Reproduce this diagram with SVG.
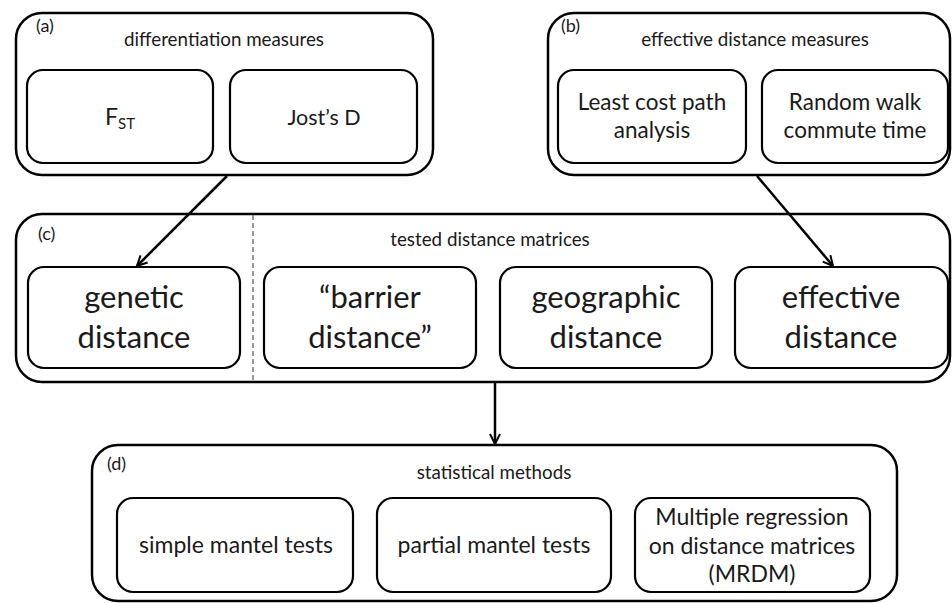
<svg xmlns="http://www.w3.org/2000/svg" width="952" height="603" viewBox="0 0 952 603">
  <style>
    .outer { fill: #ffffff; stroke: #000; stroke-width: 2.5; }
    .inner { fill: #ffffff; stroke: #000; stroke-width: 2.2; }
    text { font-family: Lato, "Open Sans", "Liberation Sans", sans-serif; fill: #1a1a1a; }
    .tag { font-size: 18px; }
    .title { font-size: 18.8px; text-anchor: middle; }
    .mid { font-size: 22.5px; text-anchor: middle; }
    .big { font-size: 31px; text-anchor: middle; }
    .stat { font-size: 23px; text-anchor: middle; }
    .conn { stroke: #000; stroke-width: 2.5; fill: none; marker-end: url(#arrow); }
    .divider { stroke: #555; stroke-width: 1.2; stroke-dasharray: 5 3; }
  </style>
  <defs>
    <marker id="arrow" viewBox="0 0 12 12" refX="11" refY="6" markerWidth="12" markerHeight="12" markerUnits="userSpaceOnUse" orient="auto">
      <path d="M1,1 L11,6 L1,11" fill="none" stroke="#000" stroke-width="2"/>
    </marker>
  </defs>

  <rect width="952" height="603" fill="#ffffff"/>

  <!-- (a) differentiation measures -->
  <g id="panel-a">
    <rect class="outer" x="16" y="13" width="417" height="162" rx="26"/>
    <text class="tag" x="36" y="32">(a)</text>
    <text class="title" x="224" y="46">differentiation measures</text>
    <g id="node-fst">
      <rect class="inner" x="27" y="70" width="186" height="93" rx="16"/>
      <text x="120" y="125" style="font-size:23px;text-anchor:middle">F<tspan font-size="15" dy="4">ST</tspan></text>
    </g>
    <g id="node-jost">
      <rect class="inner" x="230" y="70" width="187" height="93" rx="16"/>
      <text class="mid" x="324" y="125" style="font-size:21.5px">Jost’s D</text>
    </g>
  </g>

  <!-- (b) effective distance measures -->
  <g id="panel-b">
    <rect class="outer" x="548" y="13" width="402" height="162" rx="26"/>
    <text class="tag" x="561" y="32">(b)</text>
    <text class="title" x="755" y="46">effective distance measures</text>
    <g id="node-lcp">
      <rect class="inner" x="558" y="70" width="188" height="93" rx="16"/>
      <text class="mid" x="652" y="110">Least cost path</text>
      <text class="mid" x="652" y="138">analysis</text>
    </g>
    <g id="node-rw">
      <rect class="inner" x="762" y="70" width="186" height="93" rx="16"/>
      <text class="mid" x="855" y="110">Random walk</text>
      <text class="mid" x="855" y="138">commute time</text>
    </g>
  </g>

  <!-- (c) tested distance matrices -->
  <g id="panel-c">
    <rect class="outer" x="16" y="214" width="934" height="168" rx="26"/>
    <line class="divider" x1="253" y1="215" x2="253" y2="381"/>
    <text class="tag" x="38" y="240">(c)</text>
    <text class="title" x="490" y="246">tested distance matrices</text>
    <g id="node-genetic">
      <rect class="inner" x="28" y="267" width="212" height="101" rx="16"/>
      <text class="big" x="134" y="308">genetic</text>
      <text class="big" x="134" y="348">distance</text>
    </g>
    <g id="node-barrier">
      <rect class="inner" x="264" y="267" width="212" height="101" rx="16"/>
      <text class="big" x="370" y="308">“barrier</text>
      <text class="big" x="370" y="348">distance”</text>
    </g>
    <g id="node-geographic">
      <rect class="inner" x="500" y="267" width="212" height="101" rx="16"/>
      <text class="big" x="606" y="308">geographic</text>
      <text class="big" x="606" y="348">distance</text>
    </g>
    <g id="node-effective">
      <rect class="inner" x="735" y="267" width="213" height="101" rx="16"/>
      <text class="big" x="841" y="308">effective</text>
      <text class="big" x="841" y="348">distance</text>
    </g>
  </g>

  <!-- (d) statistical methods -->
  <g id="panel-d">
    <rect class="outer" x="92" y="445" width="805" height="156" rx="26"/>
    <text class="tag" x="107" y="470">(d)</text>
    <text class="title" x="494" y="479">statistical methods</text>
    <g id="node-simple">
      <rect class="inner" x="117" y="498" width="236" height="94" rx="16"/>
      <text class="stat" x="236" y="553">simple mantel tests</text>
    </g>
    <g id="node-partial">
      <rect class="inner" x="377" y="498" width="234" height="94" rx="16"/>
      <text class="stat" x="494" y="553">partial mantel tests</text>
    </g>
    <g id="node-mrdm">
      <rect class="inner" x="635" y="498" width="235" height="94" rx="16"/>
      <text class="stat" x="752" y="525">Multiple regression</text>
      <text class="stat" x="752" y="554">on distance matrices</text>
      <text class="stat" x="752" y="582">(MRDM)</text>
    </g>
  </g>

  <!-- connectors -->
  <g id="connectors">
    <path class="conn" d="M227,176 L137,266"/>
    <path class="conn" d="M757,176 L833,266"/>
    <path class="conn" d="M495,383 L495,444"/>
  </g>
</svg>
